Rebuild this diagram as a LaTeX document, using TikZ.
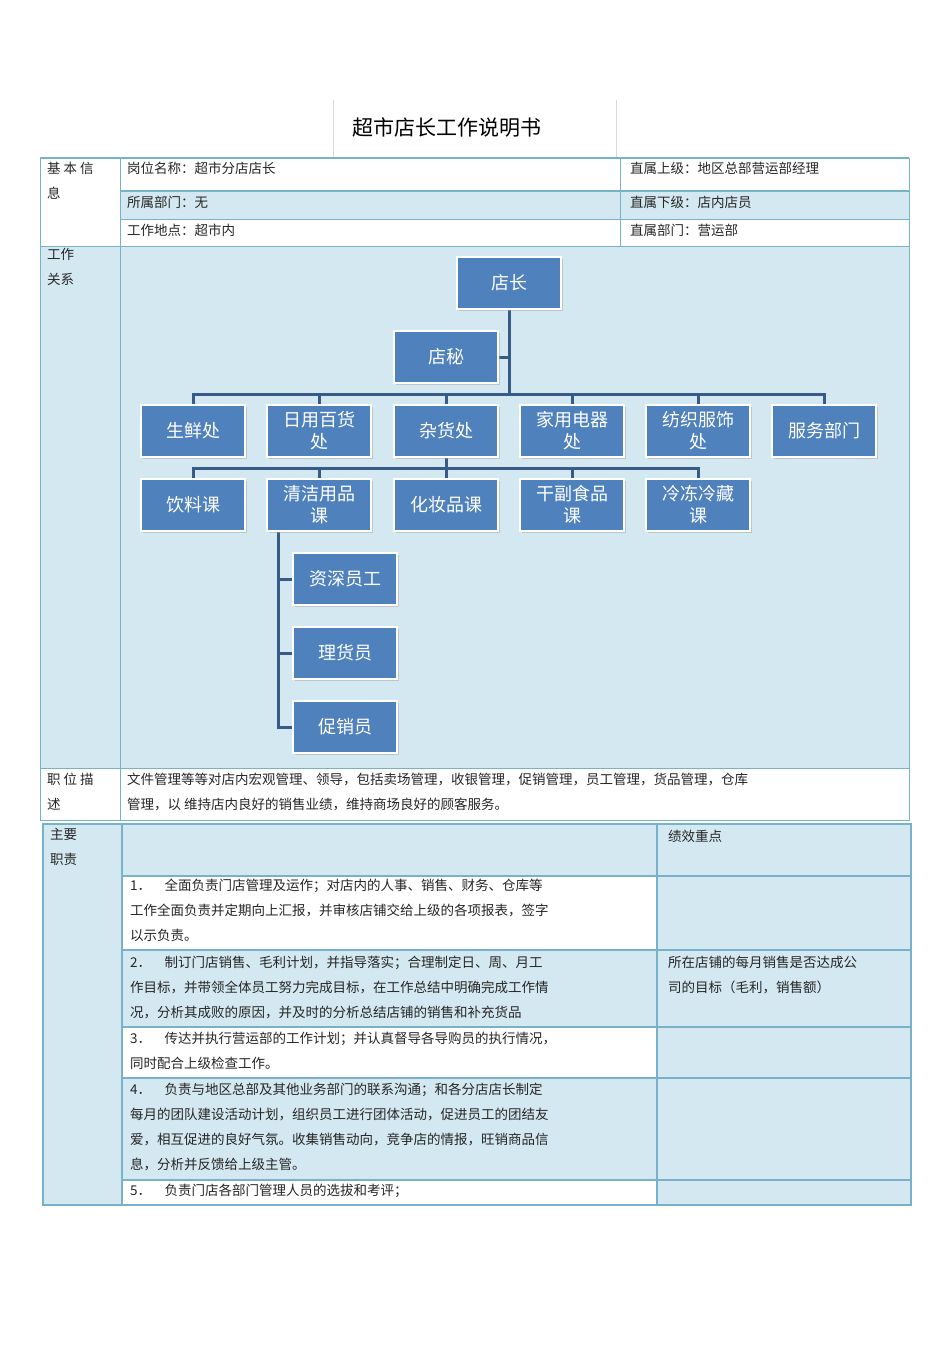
\documentclass[tikz,border=0pt]{standalone}
\usepackage{fontspec}
\newfontfamily\cjk{Noto Sans CJK SC}
\usetikzlibrary{shadows}
\pgfdeclarelayer{bg}
\pgfsetlayers{bg,main}
\definecolor{lb}{RGB}{211,232,240}
\definecolor{bd}{RGB}{120,178,200}
\definecolor{nb}{RGB}{79,129,189}
\definecolor{ln}{RGB}{56,90,135}
\tikzset{
  cell/.style={draw=bd,line width=1pt},
  txt/.style={anchor=north west,inner sep=0pt,align=left,font=\cjk\fontsize{13.5}{25}\selectfont,text=black!85},
  org/.style={draw=white,line width=2.5pt,fill=nb,minimum width=104pt,minimum height=52pt,inner sep=1pt,
    text=white,font=\cjk\fontsize{18}{22}\selectfont,align=center,
    drop shadow={shadow xshift=1.5pt,shadow yshift=-1.5pt,fill=black!35}},
  con/.style={draw=ln,line width=3pt},
}
\begin{document}
\begin{tikzpicture}[x=1pt,y=-1pt]
\begin{pgfonlayer}{bg}
\useasboundingbox (0,0) rectangle (950,1345);
\fill[white] (0,0) rectangle (950,1345);
\fill[white] (40,158) rectangle (909,246);
\fill[lb] (120,191) rectangle (909,219);
\draw[cell] (40,158) rectangle (909,246);
\draw[cell,line width=2pt] (40,158) -- (909,158) (120,191) -- (909,191);
\draw[cell] (120,158) -- (120,246) (620,158) -- (620,246) (120,219) -- (909,219);
\fill[lb] (40,246) rectangle (909,768);
\draw[cell] (40,246) rectangle (909,768) (120,246) -- (120,768);
\draw[cell] (40,768) rectangle (909,820) (120,768) -- (120,820);
\fill[lb] (43,824) rectangle (911,1205);
\foreach \a/\b in {876/950,1027/1078,1180/1205}{\fill[white] (122,\a) rectangle (657,\b);}
\draw[cell,line width=2pt] (43,824) rectangle (911,1205);
\draw[cell,line width=2pt] (122,824) -- (122,1205) (657,824) -- (657,1205);
\foreach \y in {876,950,1027,1078,1180}{\draw[cell,line width=2pt] (122,\y) -- (911,\y);}
\draw[black!15] (333,100) -- (333,157) (616,100) -- (616,157);
\end{pgfonlayer}
\node[font=\cjk\fontsize{21}{24}\selectfont] (title) at (447,128) {超市店长工作说明书};
\node[txt] (a1) at (47,162) {基\ 本\ 信\\息};
\node[txt] (a2) at (127,162) {岗位名称：超市分店店长};
\node[txt] (a3) at (630,162) {直属上级：地区总部营运部经理};
\node[txt] (a4) at (127,196) {所属部门：无};
\node[txt] (a5) at (630,196) {直属下级：店内店员};
\node[txt] (a6) at (127,224) {工作地点：超市内};
\node[txt] (a7) at (630,224) {直属部门：营运部};
\node[txt] (b1) at (47,248) {工作\\关系};
\node[txt] (c1) at (47,773) {职\ 位\ 描\\述};
\node[txt] (c2) at (127,773) {文件管理等等对店内宏观管理、领导，包括卖场管理，收银管理，促销管理，员工管理，货品管理，仓库\\管理，以 维持店内良好的销售业绩，维持商场良好的顾客服务。};
\node[txt] (d0) at (50,828) {主要\\职责};
\node[txt] (k1) at (668,830) {绩效重点};
\node[txt] (r1) at (130,879) {1．\quad 全面负责门店管理及运作；对店内的人事、销售、财务、仓库等\\工作全面负责并定期向上汇报，并审核店铺交给上级的各项报表，签字\\以示负责。};
\node[txt] (r2) at (130,956) {2．\quad 制订门店销售、毛利计划，并指导落实；合理制定日、周、月工\\作目标，并带领全体员工努力完成目标，在工作总结中明确完成工作情\\况，分析其成败的原因，并及时的分析总结店铺的销售和补充货品};
\node[txt] (p2) at (668,956) {所在店铺的每月销售是否达成公\\司的目标（毛利，销售额）};
\node[txt] (r3) at (130,1032) {3．\quad 传达并执行营运部的工作计划；并认真督导各导购员的执行情况，\\同时配合上级检查工作。};
\node[txt] (r4) at (130,1083) {4．\quad 负责与地区总部及其他业务部门的联系沟通；和各分店店长制定\\每月的团队建设活动计划，组织员工进行团体活动，促进员工的团结友\\爱，相互促进的良好气氛。收集销售动向，竞争店的情报，旺销商品信\\息，分析并反馈给上级主管。};
\node[txt] (r5) at (130,1184) {5．\quad 负责门店各部门管理人员的选拔和考评；};
\node[org] (boss) at (509,283) {店长};
\node[org] (sec) at (446,357) {店秘};
\node[org] (d1) at (193,431) {生鲜处};
\node[org] (d2) at (319,431) {日用百货\\处};
\node[org] (d3) at (446,431) {杂货处};
\node[org] (d4) at (572,431) {家用电器\\处};
\node[org] (d5) at (698,431) {纺织服饰\\处};
\node[org] (d6) at (824,431) {服务部门};
\node[org] (e1) at (193,505) {饮料课};
\node[org] (e2) at (319,505) {清洁用品\\课};
\node[org] (e3) at (446,505) {化妆品课};
\node[org] (e4) at (572,505) {干副食品\\课};
\node[org] (e5) at (698,505) {冷冻冷藏\\课};
\node[org] (f1) at (345,579) {资深员工};
\node[org] (f2) at (345,653) {理货员};
\node[org] (f3) at (345,727) {促销员};
\coordinate (bus) at (509,394);
\coordinate (bus2) at (446,468);
\coordinate (v) at (278,531);
\begin{pgfonlayer}{bg}
\draw[con] (boss.south) -- (bus);
\draw[con] (sec.east) -- (sec.east -| boss.south);
\foreach \n in {d1,d2,d3,d4,d5,d6}{\draw[con] (\n.north) |- (bus);}
\draw[con] (d3.south) -- (bus2);
\foreach \n in {e1,e2,e3,e4,e5}{\draw[con] (\n.north) |- (bus2);}
\foreach \n in {f1,f2,f3}{\draw[con] (v) |- (\n.west);}
\end{pgfonlayer}
\end{tikzpicture}
\end{document}
